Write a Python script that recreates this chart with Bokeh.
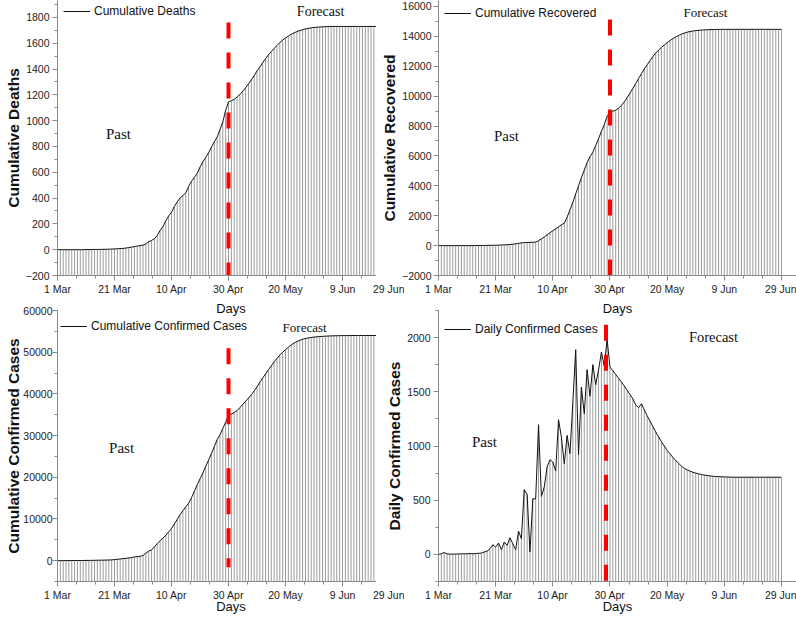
from bokeh.plotting import figure
from bokeh.layouts import row, column
from bokeh.models import (Range1d, SingleIntervalTicker, Legend, LegendItem, Label,
                          ColumnDataSource)
from bokeh.embed import file_html
from bokeh.resources import INLINE

# ---------------- data ----------------
days = list(range(121))  # 0 = 1 Mar ... 120 = 29 Jun
x_tick_days = [0, 20, 40, 60, 80, 100, 120]
x_tick_labels = ["1 Mar", "21 Mar", "10 Apr", "30 Apr", "20 May", "9 Jun", "29 Jun"]

deaths = [0, 0, 0, 0, 0, 0, 0, 0, 0, 0,
          1, 1, 1, 2, 2, 2, 3, 3, 4, 5,
          6, 7, 9, 10, 13, 16, 20, 24, 28, 32,
          35, 45, 62, 72, 85, 110, 149, 180, 225, 262,
          290, 335, 370, 400, 420, 440, 490, 530, 560, 590,
          640, 680, 715, 750, 795, 835, 872, 930, 990, 1080,
          1145, 1155, 1165, 1183, 1203, 1228, 1255, 1285, 1315, 1350,
          1385, 1415, 1450, 1480, 1510, 1535, 1560, 1582, 1605, 1625,
          1640, 1655, 1670, 1680, 1690, 1698, 1705, 1711, 1715, 1719,
          1722, 1724, 1726, 1727, 1728, 1729, 1730, 1730, 1730, 1730,
          1730, 1730, 1730, 1730, 1730, 1730, 1730, 1730, 1730, 1730,
          1730, 1730, 1730, 1730, 1730, 1730, 1730, 1730, 1730, 1730, 1730]

recovered = [0, 0, 0, 0, 0, 0, 0, 0, 0, 0,
             0, 0, 0, 5, 5, 10, 10, 15, 20, 20,
             25, 30, 40, 50, 60, 75, 95, 120, 150, 180,
             200, 210, 215, 220, 240, 330, 450, 580, 720, 860,
             1000, 1120, 1250, 1400, 1500, 1900, 2400, 2900, 3450, 4000,
             4550, 5050, 5550, 5950, 6250, 6700, 7150, 7650, 8100, 8650,
             8950, 9000, 9060, 9200, 9380, 9620, 9900, 10200, 10520, 10850,
             11180, 11500, 11820, 12100, 12380, 12650, 12880, 13080, 13260, 13420,
             13580, 13720, 13850, 13960, 14060, 14150, 14220, 14280, 14320, 14360,
             14385, 14405, 14420, 14435, 14445, 14452, 14458, 14462, 14465, 14468,
             14470, 14470, 14470, 14470, 14470, 14470, 14470, 14470, 14470, 14470,
             14470, 14470, 14470, 14470, 14470, 14470, 14470, 14470, 14470, 14470, 14470]

confirmed = [3, 5, 5, 6, 28, 29, 31, 34, 39, 43,
             56, 62, 73, 82, 102, 113, 119, 142, 156, 194,
             244, 330, 396, 499, 536, 657, 727, 887, 987, 1024,
             1251, 1800, 2300, 2550, 3300, 4100, 4800, 5400, 6100, 6900,
             7700, 8800, 9900, 11000, 12000, 12900, 13800, 15100, 16600, 18200,
             19600, 21000, 22600, 24100, 25650, 27300, 29000, 30150, 31700, 33200,
             34900, 35200, 35500, 36000, 36700, 37500, 38200, 39000, 39800, 40700,
             41700, 42800, 43800, 44800, 45800, 46700, 47700, 48500, 49300, 50000,
             50600, 51200, 51750, 52200, 52550, 52850, 53100, 53280, 53420, 53530,
             53620, 53690, 53750, 53800, 53840, 53880, 53910, 53930, 53950, 53965,
             53975, 53985, 53990, 53995, 54000, 54000, 54000, 54000, 54000, 54000,
             54000, 54000, 54000, 54000, 54000, 54000, 54000, 54000, 54000, 54000, 54000]

daily = [0, 5, 18, 5, 2, 3, 3, 4, 5, 5,
         6, 8, 6, 8, 10, 12, 22, 30, 52, 89,
         68, 105, 43, 114, 83, 154, 98, 43, 215, 145,
         597, 554, 22, 513, 513, 1196, 535, 621, 806, 873,
         852, 769, 1242, 1082, 836, 1097, 929, 1400, 1888, 919,
         1544, 1298, 1704, 1458, 1750, 1565, 1700, 1867, 1734, 1980,
         1728, 1695, 1660, 1625, 1590, 1555, 1515, 1475, 1436, 1380,
         1353, 1390, 1334, 1280, 1230, 1180, 1130, 1085, 1040, 1000,
         960, 928, 895, 866, 840, 815, 795, 780, 768, 758,
         750, 743, 737, 732, 728, 724, 721, 719, 717, 716,
         715, 714, 713, 712, 712, 712, 712, 712, 712, 712,
         712, 712, 712, 712, 712, 712, 712, 712, 712, 712, 712]

series_names = ["Cumulative Deaths", "Cumulative Recovered",
                "Cumulative Confirmed Cases", "Daily Confirmed Cases"]
y_starts = [-200, -2000, -5000, -250]
y_ends = [1931, 16400, 60000, 2250]
y_intervals = [200, 2000, 10000, 500]

# forecast boundary (day) and vertical extent of the red dashed line
forecast_day = [60, 60, 60, 58.6]
forecast_line_top = [1760, 15133, 50968, 2118]
forecast_line_bottom = [-200, -2000, -1559, -250]

# annotation positions (day, value)
past_pos = [(21.4, 893), (23.8, 7333), (22.5, 26911), (16.1, 1041)]
forecast_pos = [(92.3, 1846), (93.4, 15600), (86.7, 55934), (96.2, 2001)]
forecast_size = ["14px", "13px", "13px", "14.5px"]

# ---------------- drawing ----------------
FONT = "Liberation Sans"
SERIF = "Liberation Serif"
AX = "#8a8a8a"


def make_panel(i, values, width, height, left, top, bottom, x_end, legend_loc,
               label_standoff=3, title_standoff=1, days_standoff=3, styles=None):
    p = figure(width=width, height=height,
               x_range=Range1d(0, x_end),
               y_range=Range1d(y_starts[i], y_ends[i]),
               output_backend="svg", toolbar_location=None,
               min_border_left=left, min_border_right=0,
               min_border_top=top, min_border_bottom=bottom,
               styles=styles or {})
    p.grid.visible = False
    p.outline_line_color = None
    p.background_fill_alpha = 0
    p.border_fill_alpha = 0

    src = ColumnDataSource(dict(day=days, value=values))
    p.segment(x0="day", y0=y_starts[i], x1="day", y1="value", source=src,
              line_color="#9b9b9b", line_width=1)
    r = p.line("day", "value", source=src, line_color="#111111", line_width=1)

    p.segment(x0=forecast_day[i], y0=forecast_line_top[i],
              x1=forecast_day[i], y1=forecast_line_bottom[i],
              line_color="#ff0000", line_width=4, line_dash="16 14")

    legend = Legend(items=[LegendItem(label=series_names[i], renderers=[r])],
                    location=legend_loc, border_line_color=None,
                    background_fill_alpha=0, padding=0, margin=0, spacing=0,
                    glyph_width=27, glyph_height=14, label_standoff=4,
                    label_height=14,
                    label_text_font=FONT, label_text_font_size="12px",
                    label_text_color="#111111")
    p.add_layout(legend)

    p.add_layout(Label(x=past_pos[i][0], y=past_pos[i][1], text="Past",
                       text_font=SERIF, text_font_size="15px",
                       text_align="center", text_baseline="middle",
                       text_color="#111111"))
    p.add_layout(Label(x=forecast_pos[i][0], y=forecast_pos[i][1], text="Forecast",
                       text_font=SERIF, text_font_size=forecast_size[i],
                       text_align="center", text_baseline="middle",
                       text_color="#111111"))

    p.xaxis.ticker = SingleIntervalTicker(interval=20, num_minor_ticks=3)
    p.xaxis.major_label_overrides = dict(zip(x_tick_days, x_tick_labels))
    p.yaxis.ticker = SingleIntervalTicker(interval=y_intervals[i], num_minor_ticks=2)
    for ax in (p.xaxis[0], p.yaxis[0]):
        ax.axis_line_color = AX
        ax.major_tick_line_color = AX
        ax.minor_tick_line_color = AX
        ax.major_tick_out = 5
        ax.major_tick_in = 0
        ax.minor_tick_out = 3
        ax.minor_tick_in = 0
        ax.major_label_text_font = FONT
        ax.major_label_text_font_size = "10.5px"
        ax.major_label_text_color = "#222222"
        ax.major_label_text_line_height = 1.0
        ax.axis_label_text_font = FONT
        ax.axis_label_text_color = "#111111"
        ax.axis_label_text_line_height = 1.0
    p.yaxis.axis_label = series_names[i]
    p.yaxis.axis_label_text_font_style = "bold"
    p.yaxis.axis_label_text_font_size = "15.5px"
    p.yaxis.axis_label_standoff = title_standoff
    p.yaxis.major_label_standoff = label_standoff
    p.xaxis.axis_label = "Days"
    p.xaxis.axis_label_text_font_style = "normal"
    p.xaxis.axis_label_text_font_size = "13px"
    p.xaxis.axis_label_standoff = days_standoff
    p.xaxis.major_label_standoff = 2
    return p


def clip_right(visible_w, label_y):
    # the right-hand panel starts at visible_w; this panel's plot area is hidden
    # beyond it, while its tick-label strip stays visible to the canvas edge
    return {"margin-right": f"-{404 - visible_w}px",
            "clip-path": (f"polygon(0px 0px, {visible_w}px 0px, {visible_w}px {label_y}px, "
                          f"100% {label_y}px, 100% 100%, 0px 100%)")}


# left panels: frame from x=57 (2.85 px/day); right panels: frame from x=438 (2.858 px/day)
p1 = make_panel(0, deaths, 404, 319, 57, 0, 44, 121.75, (6, 257),
                title_standoff=1, styles=clip_right(376, 281))
p2 = make_panel(1, recovered, 420, 319, 62, 0, 44, 125.26, (6, 255),
                label_standoff=2, title_standoff=1)
p3 = make_panel(2, confirmed, 404, 314, 57, 6, 37, 121.75, (3, 248),
                label_standoff=0, title_standoff=-2, days_standoff=-5,
                styles=clip_right(376, 283))
p4 = make_panel(3, daily, 420, 314, 62, 6, 37, 125.26, (6, 245),
                label_standoff=3, title_standoff=1, days_standoff=-5)

top_row = row(p1, p2)
bottom_row = row(p3, p4, styles={"margin-top": "-15px"})
layout = column(top_row, bottom_row)

open("out.html", "w").write(file_html(layout, INLINE))
